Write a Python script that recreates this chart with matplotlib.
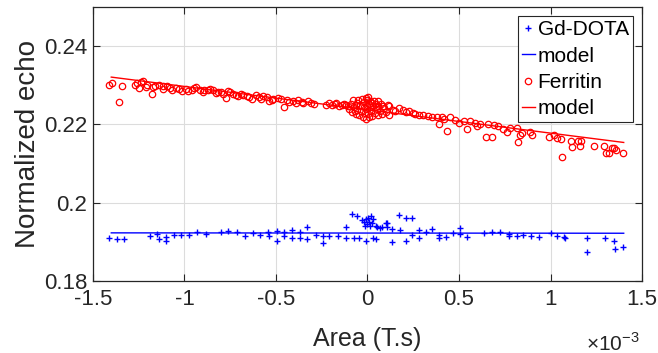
import matplotlib
matplotlib.use("Agg")
import matplotlib.pyplot as plt
from matplotlib.ticker import FixedLocator, FuncFormatter

plt.rcParams['font.family'] = ['Liberation Sans', 'DejaVu Sans']
plt.rcParams['axes.unicode_minus'] = False
plt.rcParams['mathtext.fontset'] = 'custom'
plt.rcParams['mathtext.rm'] = 'Liberation Sans'

# Area in units of 1e-3 T.s
gd_x = [-1.41, -1.37, -1.33, -1.19, -1.15, -1.14, -1.10, -1.10, -1.06, -1.02,
        -0.975, -0.93, -0.885, -0.80, -0.76, -0.715, -0.67, -0.625, -0.585, -0.545,
        -0.54, -0.495, -0.495, -0.455, -0.455, -0.415, -0.41, -0.37, -0.37, -0.33,
        -0.33, -0.28, -0.245, -0.245, -0.21, -0.16, -0.12, -0.12, -0.085, -0.055,
        -0.075, -0.045, -0.03, -0.02, -0.015, -0.01, 0.0, 0.005, 0.01, 0.015,
        0.02, 0.025, 0.03, -0.01, 0.03, 0.05, 0.045, 0.045, 0.07, 0.078,
        0.10, 0.105, 0.105, 0.135, 0.135, 0.17, 0.175, 0.21, 0.245, 0.21,
        0.245, 0.28, 0.28, 0.32, 0.35, 0.39, 0.39, 0.43, 0.465, 0.505,
        0.505, 0.545, 0.635, 0.68, 0.725, 0.775, 0.775, 0.815, 0.85, 0.895,
        0.935, 1.0, 1.035, 1.075, 1.08, 1.20, 1.20, 1.30, 1.345, 1.35, 1.395]
gd_y = [0.1910, 0.1908, 0.1908, 0.1916, 0.1920, 0.1908, 0.1913, 0.1902, 0.1918, 0.1918,
        0.1918, 0.1924, 0.1920, 0.1926, 0.1928, 0.1925, 0.1916, 0.1922, 0.1918, 0.1926,
        0.1916, 0.1929, 0.1901, 0.1924, 0.1914, 0.1931, 0.1910, 0.1926, 0.1910, 0.1939,
        0.1907, 0.1918, 0.1916, 0.1898, 0.1916, 0.1916, 0.1939, 0.1910, 0.1971, 0.1966,
        0.1909, 0.1909, 0.1955, 0.1950, 0.1940, 0.1958, 0.1945, 0.1962, 0.1952, 0.1940,
        0.1965, 0.1948, 0.1958, 0.1901, 0.1909, 0.1939, 0.1940, 0.1907, 0.1936, 0.1937,
        0.1948, 0.1949, 0.1939, 0.1932, 0.1899, 0.1969, 0.1930, 0.1960, 0.1960, 0.1903,
        0.1918, 0.1931, 0.1909, 0.1926, 0.1933, 0.1918, 0.1910, 0.1912, 0.1922, 0.1935,
        0.1921, 0.1912, 0.1922, 0.1926, 0.1925, 0.1920, 0.1914, 0.1914, 0.1918, 0.1916,
        0.1912, 0.1922, 0.1916, 0.1912, 0.1910, 0.1910, 0.1875, 0.1910, 0.1902, 0.1881, 0.1888]

fer_x = [-1.41, -1.395, -1.36, -1.34, -1.27, -1.25, -1.24, -1.225, -1.205, -1.18,
         -1.17, -1.14, -1.115, -1.095, -1.07, -1.045, -1.015, -0.99, -0.96, -0.935,
         -0.915, -0.895, -0.87, -0.845, -0.815, -0.79, -0.775, -0.76, -0.735, -0.705,
         -0.68, -0.65, -0.63, -0.595, -0.57, -0.54, -0.515, -0.49, -0.455, -0.44,
         -0.405, -0.38, -0.35, -0.325, -0.295, -0.225, -0.195, -0.17, -0.14, -0.115,
         -1.26, -1.21, -1.16, -1.12, -1.08, -1.03, -0.98, -0.95, -0.90, -0.86,
         -0.83, -0.80, -0.75, -0.72, -0.69, -0.66, -0.61, -0.58, -0.55, -0.52,
         -0.47, -0.43, -0.39, -0.36, -0.31, -0.21, -0.18, -0.155, -0.13, -0.105,
         -0.10, -0.09, -0.085, -0.08, -0.075, -0.07, -0.065, -0.065, -0.06, -0.055,
         -0.05, -0.045, -0.04, -0.035, -0.03, -0.025, -0.02, -0.018, -0.015, -0.01,
         -0.008, -0.005, 0.0, 0.0, 0.003, 0.005, 0.008, 0.01, 0.012, 0.015,
         0.02, 0.022, 0.025, 0.03, 0.035, 0.04, 0.045, 0.05, 0.055, 0.06,
         0.06, 0.07, 0.075, 0.08, 0.085, 0.09, 0.10, 0.11, 0.12, 0.12,
         0.14, 0.17, 0.195, 0.225, 0.25, 0.28, 0.305, 0.33, 0.38, 0.39,
         0.405, 0.435, 0.45, 0.48, 0.525, 0.545, 0.56, 0.585, 0.615, 0.645,
         0.66, 0.68, 0.69, 0.715, 0.74, 0.76, 0.78, 0.815, 0.82, 0.835,
         0.845, 0.89, 0.90, 0.99, 1.02, 1.035, 1.06, 1.065, 1.11, 1.115,
         1.15, 1.16, 1.165, 1.235, 1.295, 1.305, 1.32, 1.335, 1.345, 1.36,
         1.395, 0.15, 0.21, 0.26, 0.35, 0.42, 0.50, 0.60]
fer_y = [0.2302, 0.2306, 0.2257, 0.2298, 0.2302, 0.2293, 0.2308, 0.2310, 0.2300, 0.2279,
         0.2296, 0.2302, 0.2291, 0.2298, 0.2289, 0.2294, 0.2285, 0.2291, 0.2289, 0.2296,
         0.2287, 0.2289, 0.2288, 0.2288, 0.2283, 0.2279, 0.2268, 0.2286, 0.2278, 0.2272,
         0.2275, 0.2270, 0.2266, 0.2270, 0.2272, 0.2259, 0.2265, 0.2268, 0.2245, 0.2262,
         0.2260, 0.2262, 0.2255, 0.2260, 0.2253, 0.2251, 0.2249, 0.2255, 0.2249, 0.2251,
         0.2306, 0.2296, 0.2298, 0.2297, 0.2294, 0.2290, 0.2286, 0.2292, 0.2284, 0.2290,
         0.2280, 0.2284, 0.2282, 0.2276, 0.2278, 0.2272, 0.2274, 0.2266, 0.2269, 0.2262,
         0.2264, 0.2257, 0.2256, 0.2258, 0.2256, 0.2254, 0.2252, 0.2246, 0.2253, 0.2246,
         0.2240, 0.2252, 0.2232, 0.2263, 0.2245, 0.2234, 0.2228, 0.2250, 0.2255, 0.2238,
         0.2262, 0.2225, 0.2250, 0.2235, 0.2265, 0.2220, 0.2245, 0.2258, 0.2230, 0.2268,
         0.2215, 0.2250, 0.2240, 0.2262, 0.2228, 0.2270, 0.2252, 0.2218, 0.2245, 0.2260,
         0.2235, 0.2255, 0.2222, 0.2248, 0.2260, 0.2230, 0.2252, 0.2240, 0.2225, 0.2248,
         0.2259, 0.2235, 0.2252, 0.2228, 0.2246, 0.2242, 0.2232, 0.2250, 0.2225, 0.2246,
         0.2238, 0.2242, 0.2238, 0.2234, 0.2229, 0.2225, 0.2223, 0.2221, 0.2219, 0.2202,
         0.2218, 0.2184, 0.2218, 0.2212, 0.2208, 0.2188, 0.2208, 0.2203, 0.2202, 0.2168,
         0.2200, 0.2168, 0.2199, 0.2197, 0.2188, 0.2182, 0.2192, 0.2192, 0.2154, 0.2174,
         0.2179, 0.2182, 0.2174, 0.2168, 0.2172, 0.2166, 0.2163, 0.2118, 0.2157, 0.2142,
         0.2157, 0.2144, 0.2157, 0.2146, 0.2146, 0.2128, 0.2128, 0.2140, 0.2141, 0.2135,
         0.2128, 0.2235, 0.2232, 0.2226, 0.2220, 0.2214, 0.2205, 0.2196]

model_x = [-1.4, 1.4]
gd_model_y = [0.1923, 0.1922]
fer_model_y = [0.2321, 0.2154]

xticks = [-1.5, -1, -0.5, 0, 0.5, 1, 1.5]
yticks = [0.18, 0.2, 0.22, 0.24]

fig = plt.figure(figsize=(6.58, 3.53), dpi=100)
ax = fig.add_axes([0.1413, 0.204, 0.8344, 0.776])

ax.plot(gd_x, gd_y, '+', color='#0000ff', markersize=5, markeredgewidth=1.0, label='Gd-DOTA')
ax.plot(model_x, gd_model_y, '-', color='#0000ff', linewidth=1.0, label='model')
ax.plot(fer_x, fer_y, 'o', color='#ff0000', markerfacecolor='none', markersize=4.6,
        markeredgewidth=0.9, label='Ferritin')
ax.plot(model_x, fer_model_y, '-', color='#ff0000', linewidth=1.0, label='model')

ax.set_xlim(-1.5, 1.5)
ax.set_ylim(0.18, 0.25)
ax.xaxis.set_major_locator(FixedLocator(xticks))
ax.yaxis.set_major_locator(FixedLocator(yticks))
ax.xaxis.set_major_formatter(FuncFormatter(lambda v, p: '%g' % v))
ax.yaxis.set_major_formatter(FuncFormatter(lambda v, p: '%g' % v))
ax.tick_params(direction='in', top=True, right=True, length=5, width=0.8,
               labelsize=16, colors='#262626')
ax.tick_params(axis='x', pad=6)
ax.tick_params(axis='y', pad=4)
ax.grid(True, color='#dcdcdc', linewidth=0.8)
ax.set_axisbelow(True)
for s in ax.spines.values():
    s.set_color('#262626')
    s.set_linewidth(0.9)

ax.set_xlabel('Area (T.s)', fontsize=18, color='#262626', labelpad=12)
ax.set_ylabel('Normalized echo', fontsize=20, color='#262626', labelpad=2)
fig.text(0.932, 0.028, r'$\times10^{-3}$', fontsize=15, color='#262626', ha='center', va='center')

leg = ax.legend(loc='upper right', bbox_to_anchor=(0.995, 0.99), fontsize=15, frameon=True,
                fancybox=False, edgecolor='#262626', framealpha=1, handlelength=0.6,
                handletextpad=0.15, borderpad=0.2, labelspacing=0.35, borderaxespad=0.3)
leg.get_frame().set_linewidth(0.8)

fig.savefig('out.png', dpi=100)
